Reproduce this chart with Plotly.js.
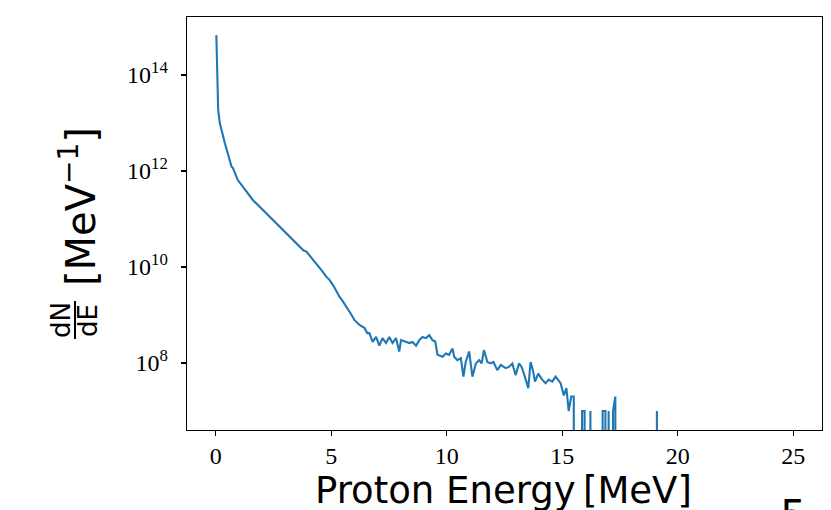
<!DOCTYPE html>
<html>
<head>
<meta charset="utf-8">
<script src="https://cdn.plot.ly/plotly-3.0.1.min.js"></script>
<style>html,body{margin:0;padding:0;background:#fff}#chart{width:831px;height:510px}</style>
</head>
<body>
<div id="chart"></div>
<script>
// Proton energy bins [MeV]
const energy = [
  0.02, 0.07, 0.10, 0.17, 0.27, 0.39, 0.50, 0.60, 0.68, 0.74,
  0.82, 0.95, 1.10, 1.33, 1.60, 1.80, 2.03, 2.33, 2.60, 2.90,
  3.20, 3.45, 3.63, 3.80, 3.92, 4.10, 4.40, 4.60, 4.78, 4.92,
  5.10, 5.35, 5.48, 5.70, 5.85, 6.00, 6.22, 6.43, 6.56, 6.65,
  6.79, 6.94, 7.08, 7.22, 7.37, 7.51, 7.65, 7.80, 7.94, 8.02,
  8.23, 8.38, 8.52, 8.67, 8.81, 8.95, 9.10, 9.24, 9.38, 9.50,
  9.60, 9.82, 9.96, 10.10, 10.18, 10.25, 10.32, 10.46, 10.61, 10.72,
  10.82, 10.97, 11.11, 11.26, 11.40, 11.51, 11.61, 11.76, 11.90, 12.02,
  12.19, 12.34, 12.55, 12.69, 12.84, 12.98, 13.13, 13.24, 13.34, 13.42,
  13.53, 13.63, 13.73, 13.82, 13.96, 14.13, 14.28, 14.42, 14.57, 14.71,
  14.82, 14.93, 15.07, 15.18, 15.28, 15.39, 15.50, 15.60, 15.75, 15.86,
  15.97, 16.08, 16.15, 16.22, 16.30, 16.65, 16.75, 16.87, 16.95, 17.01,
  17.08, 17.13, 17.20, 17.30, 17.35, 19.00, 19.10, 19.20, 25.00
];
// Spectrum dN/dE [MeV^-1]
const dNdE = [
  6.8e14, 5.6e13, 1.9e13, 1.0e13, 6.0e12, 3.8e12, 2.5e12, 1.66e12, 1.23e12, 1.15e12,
  8.9e11, 6.5e11, 5.2e11, 3.7e11, 2.5e11, 2.0e11, 1.55e11, 1.12e11, 8.3e10, 6.0e10,
  4.2e10, 3.2e10, 2.6e10, 2.2e10, 2.1e10, 1.66e10, 1.07e10, 8.3e9, 6.3e9, 5.4e9,
  4.0e9, 2.4e9, 2.0e9, 1.41e9, 1.05e9, 7.9e8, 6.2e8, 5.4e8, 4.2e8, 4.2e8,
  2.75e8, 3.5e8, 2.3e8, 3.3e8, 2.6e8, 3.5e8, 2.6e8, 3.3e8, 1.74e8, 3.0e8,
  2.75e8, 2.6e8, 2.75e8, 2.3e8, 3.0e8, 3.5e8, 3.3e8, 3.8e8, 3.0e8, 2.8e8,
  1.48e8, 1.35e8, 1.58e8, 1.48e8, 1.74e8, 2.0e8, 1.35e8, 1.15e8, 1.26e8, 5.2e7,
  1.05e8, 1.74e8, 5.2e7, 9.8e7, 1.15e8, 9.8e7, 1.86e8, 1.05e8, 9.8e7, 1.05e8,
  7.1e7, 9.1e7, 7.8e7, 8.3e7, 9.8e7, 5.6e7, 9.8e7, 8.3e7, 6.0e7, 4.5e7,
  3.0e7, 1.05e8, 7.1e7, 4.1e7, 6.0e7, 4.5e7, 3.8e7, 4.5e7, 4.1e7, 5.2e7,
  4.5e7, 3.8e7, 2.1e7, 3.0e7, 1.0e7, 2.0e7, 2.0e7, 0, 0, 1.0e7,
  1.0e7, 0, 0, 1.0e7, 0, 0, 1.0e7, 1.0e7, 0, 1.0e7,
  0, 0, 1.0e7, 2.0e7, 0, 0, 1.0e7, 0, 0
];
const xTickVals = [0, 5, 10, 15, 20, 25];
const yTickVals = [1e8, 1e10, 1e12, 1e14];
const yTickText = ['10<sup>8</sup>', '10<sup>10</sup>', '10<sup>12</sup>', '10<sup>14</sup>'];

// matplotlib clips non-positive values on a log axis to the bottom edge
const yPlot = dNdE.map(v => (v > 0 ? v : 1e-100));

const L = 187, R = 9, T = 17, B = 80, W = 831, H = 510;
const pw = W - L - R, ph = H - T - B;
const px = x => (x - L) / pw;
const py = y => (H - B - y) / ph;

const trace = {
  x: energy, y: yPlot, type: 'scatter', mode: 'lines',
  line: {color: '#1f77b4', width: 2.1}, hoverinfo: 'x+y'
};

const axisCommon = {
  showgrid: false, zeroline: false, showline: true, mirror: true,
  linecolor: '#000', linewidth: 1.3, ticks: 'outside', ticklen: 5,
  tickwidth: 1.2, tickcolor: '#000',
  tickfont: {family: 'Liberation Serif', size: 24, color: '#000'}
};

const layout = {
  width: W, height: H,
  margin: {l: L, r: R, t: T, b: B, pad: 0},
  paper_bgcolor: '#fff', plot_bgcolor: '#fff', showlegend: false,
  xaxis: Object.assign({}, axisCommon, {
    range: [-1.25, 26.25], tickvals: xTickVals, ticklabelstandoff: -1
  }),
  yaxis: Object.assign({}, axisCommon, {
    type: 'log', range: [6.604, 15.21], tickvals: yTickVals, ticktext: yTickText,
    ticklabelstandoff: 8
  }),
  annotations: [
    {text: 'Proton Energy\u2009[MeV]', xref: 'paper', yref: 'paper',
     x: px(503), y: py(490), xanchor: 'center', yanchor: 'middle', showarrow: false,
     font: {family: 'DejaVu Sans', size: 37, color: '#000'}},
    {text: '[MeV<sup>−1</sup>]', textangle: -90, xref: 'paper', yref: 'paper',
     x: px(78), y: py(206), xanchor: 'center', yanchor: 'middle', showarrow: false,
     font: {family: 'DejaVu Sans', size: 40, color: '#000'}},
    {text: 'dN', textangle: -90, xref: 'paper', yref: 'paper',
     x: px(61), y: py(320), xanchor: 'center', yanchor: 'middle', showarrow: false,
     font: {family: 'DejaVu Sans', size: 26, color: '#000'}},
    {text: 'dE', textangle: -90, xref: 'paper', yref: 'paper',
     x: px(88), y: py(320), xanchor: 'center', yanchor: 'middle', showarrow: false,
     font: {family: 'DejaVu Sans', size: 26, color: '#000'}},
    {text: '5', xref: 'paper', yref: 'paper',
     x: px(793), y: py(489), xanchor: 'center', yanchor: 'top', showarrow: false,
     font: {family: 'DejaVu Sans', size: 42, color: '#000'}}
  ],
  shapes: [
    {type: 'line', xref: 'paper', yref: 'paper', x0: px(75), x1: px(75), y0: py(301), y1: py(339),
     line: {color: '#000', width: 2}}
  ]
};

Plotly.newPlot('chart', [trace], layout, {staticPlot: true, displayModeBar: false});
</script>
</body>
</html>
